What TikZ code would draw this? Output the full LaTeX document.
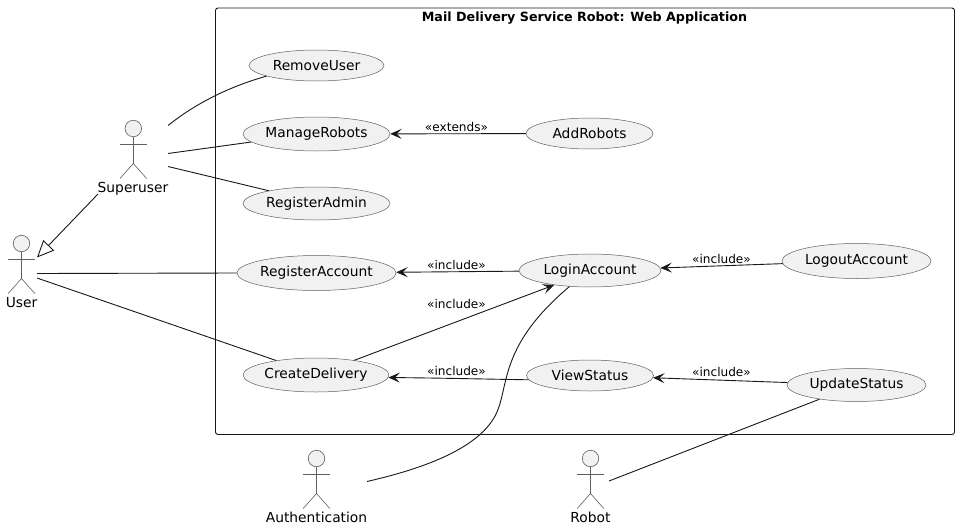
\documentclass[tikz,border=0pt]{standalone}
\usepackage{fontspec}
\setmainfont{DejaVu Sans}
\usetikzlibrary{arrows.meta,shapes.geometric}
\definecolor{fillc}{HTML}{F1F1F1}
\definecolor{edgec}{HTML}{181818}
\definecolor{limb}{HTML}{606060}
\tikzset{
  uc/.style={ellipse,draw=limb,fill=fillc,line width=0.5pt,inner sep=0pt,font=\fontsize{13.8}{16}\selectfont,text=black},
  lbl/.style={font=\fontsize{12.1}{14}\selectfont,text=black,inner sep=0pt},
  actorlabel/.style={font=\fontsize{13.8}{16}\selectfont,text=black,inner sep=0pt},
  conn/.style={draw=edgec,line width=0.9pt},
  dep/.style={conn,-{Stealth[length=11.5pt,width=10pt,inset=5pt]}},
  limbline/.style={draw=limb,line width=0.6pt},
  headc/.style={circle,draw=limb,fill=fillc,line width=0.6pt,minimum size=16.5pt,inner sep=0pt},
  actorfig/.pic={
    \node[headc] at (0,0) {};
    \draw[limbline] (0,8.2) -- (0,35);
    \draw[limbline] (-13.3,16) -- (13.3,16);
    \draw[limbline] (-13.3,50) -- (0,35) -- (13.3,50);
  }
}
\begin{document}
\begin{tikzpicture}[x=1pt,y=-1pt]
\useasboundingbox (0,0) rectangle (959,530);
\fill[white] (0,0) rectangle (959,530);
\draw[edgec,line width=0.9pt,rounded corners=2.5pt] (215.5,8) rectangle (954.5,434.5);
\node[font=\bfseries\fontsize{12.7}{16}\selectfont,inner sep=0pt] (title) at (584.5,18) {Mail Delivery Service Robot: Web Application};

\node[uc,minimum width=135pt,minimum height=31pt] (RemoveUser) at (316.5,65.5) {RemoveUser};
\node[uc,minimum width=147pt,minimum height=34pt] (ManageRobots) at (316.5,134) {ManageRobots};
\node[uc,minimum width=147pt,minimum height=33pt] (RegisterAdmin) at (316.5,203.5) {RegisterAdmin};
\node[uc,minimum width=155pt,minimum height=35pt] (RegisterAccount) at (316.5,273) {RegisterAccount};
\node[uc,minimum width=144pt,minimum height=34pt] (CreateDelivery) at (316,375) {CreateDelivery};
\node[uc,minimum width=127pt,minimum height=31pt] (AddRobots) at (589.5,133.5) {AddRobots};
\node[uc,minimum width=142pt,minimum height=33pt] (LoginAccount) at (590,270.5) {LoginAccount};
\node[uc,minimum width=127pt,minimum height=31pt] (ViewStatus) at (590,375.5) {ViewStatus};
\node[uc,minimum width=149pt,minimum height=35pt] (LogoutAccount) at (856.5,261) {LogoutAccount};
\node[uc,minimum width=139pt,minimum height=33pt] (UpdateStatus) at (856.5,385) {UpdateStatus};

\pic at (133.3,128.5) {actorfig};
\pic at (21.5,243.5) {actorfig};
\pic at (316.5,458.5) {actorfig};
\pic at (590.5,458.5) {actorfig};
\node[actorlabel] (Superuser) at (133,188.5) {Superuser};
\node[actorlabel] (User) at (21.5,303) {User};
\node[actorlabel] (Authentication) at (316.5,517.5) {Authentication};
\node[actorlabel] (Robot) at (590.5,517.5) {Robot};

\coordinate (su1) at (168,125.5);
\coordinate (su2) at (168,153.5);
\coordinate (su3) at (168,166.5);
\coordinate (sugen) at (98,194);
\coordinate (ugen) at (37,257.5);
\coordinate (u1) at (37,273.5);
\coordinate (u2) at (37,278);
\coordinate (auth) at (367,481.5);
\coordinate (rob) at (609,481);

\draw[conn] (su1) .. controls (195,104) and (228,87) .. (RemoveUser.-168);
\draw[conn] (su2) -- (ManageRobots.-173);
\draw[conn] (su3) -- (RegisterAdmin.165);
\draw[conn,-{Triangle[open,length=17pt,width=15pt,fill=white]}] (sugen) -- (ugen);
\draw[conn] (u1) -- (RegisterAccount.180);
\draw[conn] (u2) -- (CreateDelivery.160);
\draw[conn] (rob) -- (UpdateStatus.-159);
\draw[conn] (auth) .. controls (435,466) and (483,444) .. (497,412)
  .. controls (509,384) and (500,345) .. (LoginAccount.-142);

\draw[dep] (AddRobots) -- (ManageRobots);
\draw[dep] (LoginAccount) -- (RegisterAccount);
\draw[dep] (LogoutAccount) -- (LoginAccount);
\draw[dep] (CreateDelivery.21) -- (LoginAccount.-158.6);
\draw[dep] (ViewStatus.-176) .. controls (480,379) and (440,378) .. (CreateDelivery.-2);
\draw[dep] (UpdateStatus) -- (ViewStatus);

\node[lbl] (e1) at (456.5,127) {«extends»};
\node[lbl] (i1) at (456.5,265) {«include»};
\node[lbl] (i2) at (456.5,304) {«include»};
\node[lbl] (i3) at (456.5,370.5) {«include»};
\node[lbl] (i4) at (721.5,259) {«include»};
\node[lbl] (i5) at (721.5,372) {«include»};
\end{tikzpicture}
\end{document}
